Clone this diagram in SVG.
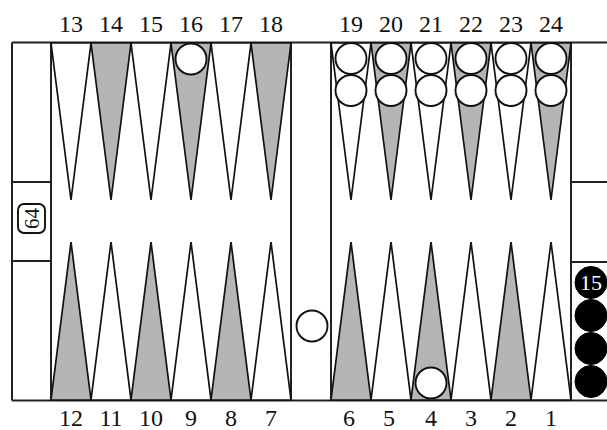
<svg xmlns="http://www.w3.org/2000/svg" width="607" height="430" viewBox="0 0 607 430">
<style>
.frame{fill:none;stroke:#222;stroke-width:2}
.pw{fill:#fff;stroke:#111;stroke-width:1.7;stroke-linejoin:miter}
.pg{fill:#b5b5b5;stroke:#111;stroke-width:1.7;stroke-linejoin:miter}
.wc{fill:#fff;stroke:#111;stroke-width:1.9}
.bc{fill:#000;stroke:#000;stroke-width:1}
.num{font-family:"Liberation Serif",serif;font-size:24px;fill:#111;text-anchor:middle}
</style>
<rect x="0" y="0" width="607" height="430" fill="#fff"/>
<g id="board">
<line class="frame" x1="12" y1="42.5" x2="607" y2="42.5"/>
<line class="frame" x1="12" y1="400.5" x2="607" y2="400.5"/>
<line class="frame" x1="12" y1="42.5" x2="12" y2="400.5"/>
<line class="frame" x1="51" y1="42.5" x2="51" y2="400.5"/>
<line class="frame" x1="12" y1="182" x2="51" y2="182"/>
<line class="frame" x1="12" y1="261" x2="51" y2="261"/>
<line class="frame" x1="291" y1="42.5" x2="291" y2="400.5"/>
<line class="frame" x1="331" y1="42.5" x2="331" y2="400.5"/>
<line class="frame" x1="571" y1="42.5" x2="571" y2="400.5"/>
<line class="frame" x1="571" y1="182" x2="607" y2="182"/>
<line class="frame" x1="571" y1="262" x2="607" y2="262"/>
</g>
<g id="points">
<polygon class="pw" points="51,43 91,43 71,200"/>
<polygon class="pg" points="91,43 131,43 111,200"/>
<polygon class="pw" points="131,43 171,43 151,200"/>
<polygon class="pg" points="171,43 211,43 191,200"/>
<polygon class="pw" points="211,43 251,43 231,200"/>
<polygon class="pg" points="251,43 291,43 271,200"/>
<polygon class="pw" points="331,43 371,43 351,200"/>
<polygon class="pg" points="371,43 411,43 391,200"/>
<polygon class="pw" points="411,43 451,43 431,200"/>
<polygon class="pg" points="451,43 491,43 471,200"/>
<polygon class="pw" points="491,43 531,43 511,200"/>
<polygon class="pg" points="531,43 571,43 551,200"/>
<polygon class="pg" points="51,400 91,400 71,242"/>
<polygon class="pw" points="91,400 131,400 111,242"/>
<polygon class="pg" points="131,400 171,400 151,242"/>
<polygon class="pw" points="171,400 211,400 191,242"/>
<polygon class="pg" points="211,400 251,400 231,242"/>
<polygon class="pw" points="251,400 291,400 271,242"/>
<polygon class="pg" points="331,400 371,400 351,242"/>
<polygon class="pw" points="371,400 411,400 391,242"/>
<polygon class="pg" points="411,400 451,400 431,242"/>
<polygon class="pw" points="451,400 491,400 471,242"/>
<polygon class="pg" points="491,400 531,400 511,242"/>
<polygon class="pw" points="531,400 571,400 551,242"/>
</g>
<g id="checkers-white">
<circle class="wc" cx="191" cy="59" r="15.5"/>
<circle class="wc" cx="351" cy="58.5" r="15.5"/>
<circle class="wc" cx="351" cy="90.5" r="15.5"/>
<circle class="wc" cx="391" cy="58.5" r="15.5"/>
<circle class="wc" cx="391" cy="90.5" r="15.5"/>
<circle class="wc" cx="431" cy="58.5" r="15.5"/>
<circle class="wc" cx="431" cy="90.5" r="15.5"/>
<circle class="wc" cx="471" cy="58.5" r="15.5"/>
<circle class="wc" cx="471" cy="90.5" r="15.5"/>
<circle class="wc" cx="511" cy="58.5" r="15.5"/>
<circle class="wc" cx="511" cy="90.5" r="15.5"/>
<circle class="wc" cx="551" cy="58.5" r="15.5"/>
<circle class="wc" cx="551" cy="90.5" r="15.5"/>
<circle class="wc" cx="312" cy="326" r="15.5"/>
<circle class="wc" cx="431" cy="383" r="15.5"/>
</g>
<g id="checkers-black">
<circle class="bc" cx="591" cy="282.5" r="16"/>
<circle class="bc" cx="591" cy="315.5" r="16"/>
<circle class="bc" cx="591" cy="348.5" r="16"/>
<circle class="bc" cx="591" cy="381.5" r="16"/>
<text x="591" y="290" font-family="Liberation Serif,serif" font-size="22" fill="#fff" text-anchor="middle">15</text>
</g>
<g id="cube">
<rect x="18" y="204" width="27" height="29" rx="6" ry="6" fill="#fff" stroke="#111" stroke-width="1.9"/>
<text transform="translate(38.5,218.5) rotate(-90)" font-family="Liberation Serif,serif" font-size="21" fill="#111" text-anchor="middle">64</text>
</g>
<g id="labels-top">
<text class="num" x="71" y="32">13</text>
<text class="num" x="111" y="32">14</text>
<text class="num" x="151" y="32">15</text>
<text class="num" x="191" y="32">16</text>
<text class="num" x="231" y="32">17</text>
<text class="num" x="271" y="32">18</text>
<text class="num" x="351" y="32">19</text>
<text class="num" x="391" y="32">20</text>
<text class="num" x="431" y="32">21</text>
<text class="num" x="471" y="32">22</text>
<text class="num" x="511" y="32">23</text>
<text class="num" x="551" y="32">24</text>
</g>
<g id="labels-bottom">
<text class="num" x="71" y="425.5">12</text>
<text class="num" x="111" y="425.5">11</text>
<text class="num" x="151" y="425.5">10</text>
<text class="num" x="191" y="425.5">9</text>
<text class="num" x="231" y="425.5">8</text>
<text class="num" x="271" y="425.5">7</text>
<text class="num" x="349" y="425.5">6</text>
<text class="num" x="389" y="425.5">5</text>
<text class="num" x="431" y="425.5">4</text>
<text class="num" x="471" y="425.5">3</text>
<text class="num" x="511" y="425.5">2</text>
<text class="num" x="551" y="425.5">1</text>
</g>
</svg>
